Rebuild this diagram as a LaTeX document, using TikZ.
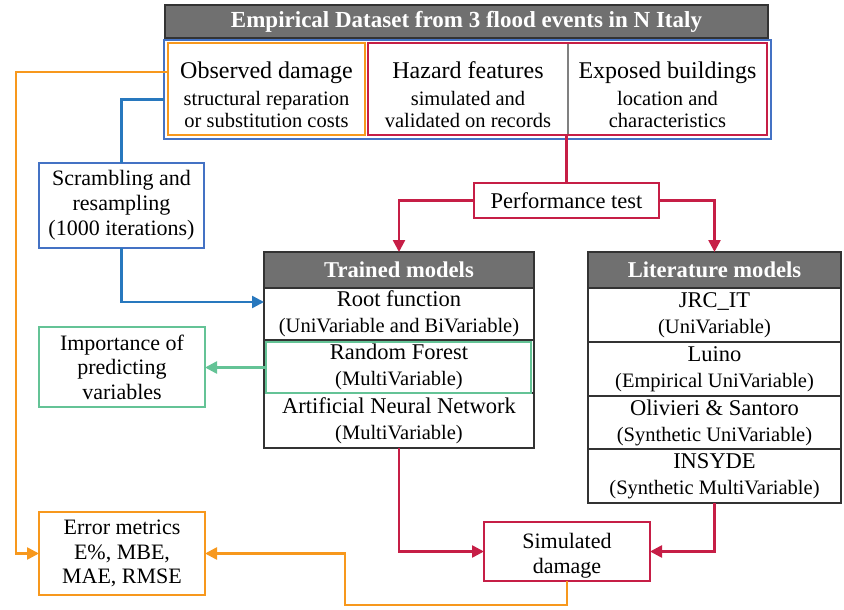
\documentclass[tikz,border=0pt]{standalone}
\usepackage{fontspec}
\setmainfont{Liberation Serif}
\usetikzlibrary{arrows.meta,fit}

\definecolor{dmgorange}{RGB}{247,152,29}
\definecolor{testred}{RGB}{198,30,70}
\definecolor{setblue}{RGB}{68,114,196}
\definecolor{linkblue}{RGB}{40,120,190}
\definecolor{rfgreen}{RGB}{100,195,150}
\definecolor{headgray}{RGB}{112,112,112}

\newcommand{\subline}[1]{{\fontsize{20.5}{22}\selectfont #1}}

\begin{document}
\begin{tikzpicture}[x=1pt,y=-1pt,
  every node/.style={inner sep=0pt,outer sep=0pt,align=center,font=\fontsize{22.5}{26}\selectfont},
  box/.style={draw,line width=2.6pt,fill=white},
  row/.style={draw=black!80,line width=1.2pt,fill=white},
  head/.style={draw=black!80,line width=1.2pt,fill=headgray,text=white,font=\fontsize{22.6}{24}\selectfont\bfseries},
  side/.style={box,minimum width=166,font=\fontsize{22}{24.5}\selectfont},
  link/.style={line width=2.5pt,-{Triangle[length=12pt,width=12pt]}},
  wire/.style={line width=2.5pt}]
  \useasboundingbox (0,0) rectangle (844,610);

  % dataset
  \node[head,minimum width=603,minimum height=33,font=\fontsize{23}{24}\selectfont\bfseries] (title) at (466.5,21.5) {Empirical Dataset from 3 flood events in N Italy};
  \node[draw=setblue,line width=2.8pt,minimum width=607,minimum height=99] (data) at (467.5,89.5) {};
  \node[box,draw=dmgorange,minimum width=197,minimum height=92,font=\fontsize{24}{22}\selectfont] (obs) at (266.5,89)
    {\rule{0pt}{28pt}Observed damage\\[5pt]\subline{structural reparation}\\\subline{or substitution costs}};
  \node[row,draw=gray,minimum width=200,minimum height=92,font=\fontsize{24}{22}\selectfont] (haz) at (468,89)
    {\rule{0pt}{28pt}Hazard features\\[5pt]\subline{simulated and}\\\subline{validated on records}};
  \node[row,draw=gray,minimum width=199,minimum height=92,font=\fontsize{24}{22}\selectfont] (expo) at (667.5,89)
    {\rule{0pt}{28pt}Exposed buildings\\[5pt]\subline{location and}\\\subline{characteristics}};
  \node[draw=testred,line width=2.8pt,fit=(haz)(expo)] (hazexp) {};

  \node[box,draw=testred,minimum width=185,minimum height=35] (pt) at (566.5,200.5) {Performance test};

  % trained models
  \node[head,minimum width=270,minimum height=36] (trhead) at (399,270) {Trained models};
  \node[row,minimum width=270,minimum height=52] (root) at (399,314) {Root function\\\subline{(UniVariable and BiVariable)}};
  \node[row,minimum width=270,minimum height=53] (rf) at (399,366.5) {Random Forest\\\subline{(MultiVariable)}};
  \node[row,minimum width=270,minimum height=55] (ann) at (399,420.5) {Artificial Neural Network\\\subline{(MultiVariable)}};
  \node[draw=rfgreen,line width=2.6pt,minimum width=265,minimum height=51] (rfmark) at (398.5,367.5) {};

  % literature models
  \node[head,minimum width=253,minimum height=36] (lithead) at (714.5,270) {Literature models};
  \node[row,minimum width=253,minimum height=54] (jrc) at (714.5,315) {JRC\_IT\\\subline{(UniVariable)}};
  \node[row,minimum width=253,minimum height=54] (luino) at (714.5,369) {Luino\\\subline{(Empirical UniVariable)}};
  \node[row,minimum width=253,minimum height=53] (oliv) at (714.5,422.5) {Olivieri \& Santoro\\\subline{(Synthetic UniVariable)}};
  \node[row,minimum width=253,minimum height=54] (insyde) at (714.5,476) {INSYDE\\\subline{(Synthetic MultiVariable)}};

  % side boxes
  \node[side,draw=setblue,minimum width=165,minimum height=85,font=\fontsize{22}{25}\selectfont] (scram) at (121.5,205.5) {Scrambling and\\resampling\\(1000 iterations)};
  \node[side,draw=rfgreen,minimum height=80] (imp) at (122,367) {Importance of\\predicting\\variables};
  \node[side,draw=dmgorange,minimum height=83] (errm) at (122,553.5) {Error metrics\\E\%, MBE,\\MAE, RMSE};
  \node[side,draw=testred,minimum height=59] (sim) at (567,551.5) {\rule{0pt}{24pt}Simulated\\damage};
  \coordinate (loop) at (345,605);

  % connectors
  \draw[wire,testred] (pt.north |- hazexp.south) -- (pt.north);
  \draw[link,testred] (pt.west) -| (trhead.north);
  \draw[link,testred] (pt.east) -| (lithead.north);
  \draw[link,testred] (ann.south) |- (sim.west);
  \draw[link,testred] (insyde.south) |- (sim.east);
  \draw[wire,linkblue] ([yshift=-10pt]data.west) -| (scram.north);
  \draw[link,linkblue] (scram.south) |- ([yshift=12pt]root.west);
  \draw[link,rfgreen] (rfmark.west) -- (rfmark.west -| imp.east);
  \draw[link,dmgorange] ([yshift=17pt]obs.west) -- ++(-152,0) |- (errm.west);
  \draw[link,dmgorange] (sim.south) |- (loop) |- (errm.east);
\end{tikzpicture}
\end{document}
